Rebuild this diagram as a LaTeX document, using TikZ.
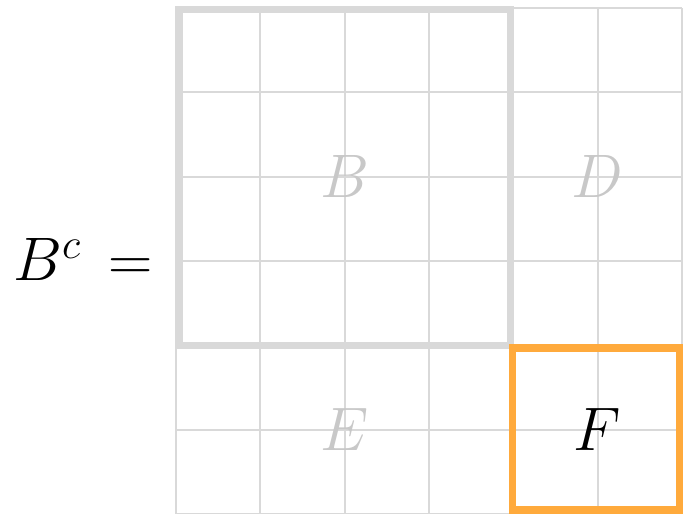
\documentclass[tikz,border=0pt]{standalone}
\usepackage{tikz}
\usetikzlibrary{positioning}
\definecolor{cGrid}{HTML}{D9D9D9}
\definecolor{cBlockLbl}{HTML}{C8C8C8}
\definecolor{cPick}{HTML}{FFAA3C}

\begin{document}
\begin{tikzpicture}[font=\fontsize{21}{25}\selectfont,
    greylbl/.style={text=cBlockLbl},
    picklbl/.style={text=black}]
        \useasboundingbox (-2.087,0) rectangle (6.012,6.095);
        % cells
        \draw[cGrid, line width=0.7pt] (0,0) grid (6,6);
        % blocks
        \draw[cGrid, line width=2.4pt] (0.036,2.0) rectangle (3.967,5.982);
        \draw[cPick, line width=2.6pt] (3.99,0.047) rectangle (5.977,1.97);
        \node[greylbl] (lblB) at (2,4) {$B$};
        \node[greylbl] (lblD) at (5,4) {$D$};
        \node[greylbl] (lblE) at (2,1) {$E$};
        \node[picklbl] (lblF) at (5,1) {$F$};
        \node (lhs) at (-1.1,3.02) {$B^c\,=$};
      \end{tikzpicture}
\end{document}
